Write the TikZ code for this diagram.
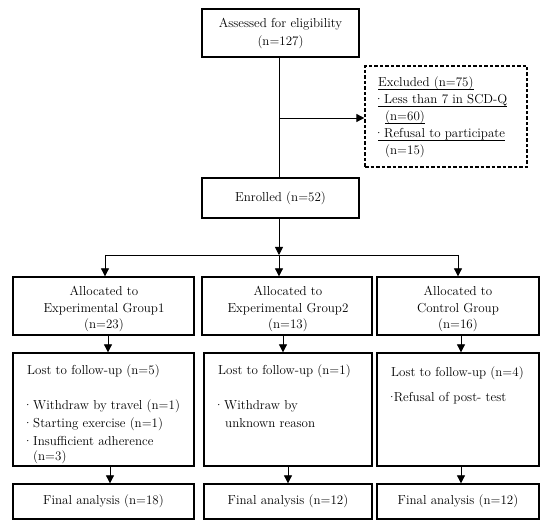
\documentclass[tikz,border=0pt]{standalone}
\usetikzlibrary{arrows.meta}
\newcommand\dotglyph{\makebox[1.4pt][c]{·}}
\newcommand\mydot{\dotglyph\hspace{4.6pt}}
\newcommand\myul[1]{\leavevmode\setbox0\hbox{#1}\rlap{\vrule height -2pt depth 2.6pt width \wd0}\box0}
\begin{document}
\begin{tikzpicture}[x=1pt,y=-1pt,
  box/.style={draw, line width=1.3pt, inner sep=0pt, font=\fontsize{13}{17}\selectfont},
  dbox/.style={draw, line width=1.3pt, inner sep=0pt, dash pattern=on 3.5pt off 2pt},
  conn/.style={line width=0.8pt},
  arr/.style={line width=0.8pt, -{Triangle[length=8pt,width=8pt]}},
  txt/.style={inner sep=0pt, font=\fontsize{13}{17}\selectfont},
  ctxt/.style={inner sep=0pt, align=center, font=\fontsize{13}{16.5}\selectfont},
]
\useasboundingbox (0,0) rectangle (550,529);

% boxes
\node[box, minimum width=157pt, minimum height=48pt, align=center,
      font=\fontsize{13}{18}\selectfont] (top) at (280.5,33) {Assessed for eligibility\\(n=127)};
\node[dbox, minimum width=162pt, minimum height=101pt] (excl) at (446,116.5) {};
\node[box, minimum width=157pt, minimum height=40pt] (enr) at (280.5,198) {Enrolled (n=52)};

\node[box, minimum width=181pt, minimum height=58pt] (a1) at (103.5,306) {};
\node[box, minimum width=170pt, minimum height=58pt] (a2) at (287,306) {};
\node[box, minimum width=162pt, minimum height=58pt] (a3) at (458,306) {};

\node[box, minimum width=181pt, minimum height=113pt] (l1) at (103.5,409.5) {};
\node[box, minimum width=168pt, minimum height=113pt] (l2) at (288,409.5) {};
\node[box, minimum width=162pt, minimum height=113pt] (l3) at (458,409.5) {};

\node[box, minimum width=181pt, minimum height=35pt] (f1) at (103.5,501.5) {Final analysis (n=18)};
\node[box, minimum width=168pt, minimum height=35pt] (f2) at (288,501.5) {Final analysis (n=12)};
\node[box, minimum width=162pt, minimum height=35pt] (f3) at (458,501.5) {Final analysis (n=12)};

% excluded text
\node[txt, anchor=base west] (e1) at (378,87)  {\myul{Excluded (n=75)}};
\node[txt, anchor=base west] (e2) at (378,104) {\myul{\mydot Less than 7 in SCD-Q}};
\node[txt, anchor=base west] (e3) at (385,121) {\myul{(n=60)}};
\node[txt, anchor=base west] (e4) at (378,138) {\myul{\mydot Refusal to participate}};
\node[txt, anchor=base west] (e5) at (385,155) {(n=15)};

% allocated text
\node[ctxt] (t1) at (104,309) {Allocated to\\Experimental Group1\\(n=23)};
\node[ctxt] (t2) at (288,309) {Allocated to\\Experimental Group2\\(n=13)};
\node[ctxt] (t3) at (458,309) {Allocated to\\Control Group\\(n=16)};

% lost text
\node[txt, anchor=base west] (p1) at (27,375) {Lost to follow-up (n=5)};
\node[txt, anchor=base west] (p2) at (27,410) {\mydot Withdraw by travel (n=1)};
\node[txt, anchor=base west] (p3) at (27,428) {\mydot Starting exercise (n=1)};
\node[txt, anchor=base west] (p4) at (27,446) {\mydot Insufficient adherence};
\node[txt, anchor=base west] (p5) at (33,461) {(n=3)};

\node[txt, anchor=base west] (q1) at (218,375) {Lost to follow-up (n=1)};
\node[txt, anchor=base west] (q2) at (218,410) {\mydot Withdraw by};
\node[txt, anchor=base west] (q3) at (225,428) {unknown reason};

\node[txt, anchor=base west] (r1) at (391,377) {Lost to follow-up (n=4)};
\node[txt, anchor=base west] (r2) at (391,402) {\dotglyph\hspace{1.2pt}Refusal of post- test};

% connectors
\draw[conn] ([xshift=-1.5pt]top.south) -- ([xshift=-1.5pt]top.south |- enr.north);
\coordinate (j1) at ([xshift=-1.5pt]top.south |- 0,118);
\draw[arr] (j1) -- (j1 -| excl.west);

\coordinate (j2) at ([xshift=-1.5pt]enr.south |- 0,255);
\draw[arr] ([xshift=-1.5pt]enr.south) -- (j2);
\draw[conn] ([xshift=1.5pt]a1.north |- j2) -- (a3.north |- j2);
\draw[arr] (j2) -- (j2 |- a2.north);
\draw[arr] ([xshift=1.5pt]a1.north |- j2) -- ([xshift=1.5pt]a1.north);
\draw[arr] (a3.north |- j2) -- (a3.north);

\draw[arr] ([xshift=4.5pt]a1.south) -- ([xshift=4.5pt]a1.south |- l1.north);
\draw[arr] ([xshift=-4pt]a2.south) -- ([xshift=-4pt]a2.south |- l2.north);
\draw[arr] ([xshift=3pt]a3.south) -- ([xshift=3pt]a3.south |- l3.north);

\draw[arr] ([xshift=6.5pt]l1.south) -- ([xshift=6.5pt]l1.south |- f1.north);
\draw[arr] (l2.south) -- (f2.north);
\draw[arr] ([xshift=3pt]l3.south) -- ([xshift=3pt]l3.south |- f3.north);
\end{tikzpicture}
\end{document}
